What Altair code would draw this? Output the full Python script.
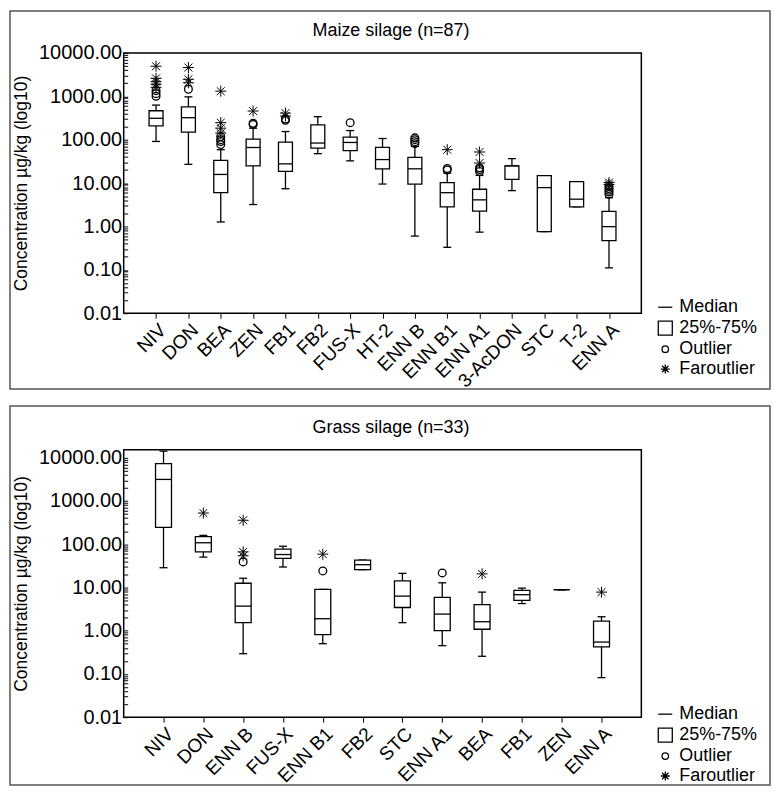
import altair as alt
import pandas as pd

FONT = "Liberation Sans"
FS_TITLE = 18
FS_YLAB = 20
FS_XLAB = 19
FS_YTITLE = 17.5
FS_LEG = 18

# ---------------- Maize silage ----------------
maize_title = "Maize silage (n=87)"
maize_cats = ["NIV", "DON", "BEA", "ZEN", "FB1", "FB2", "FUS-X", "HT-2", "ENN B",
              "ENN B1", "ENN A1", "3-AcDON", "STC", "T-2", "ENN A"]
maize_lo = [91, 27, 1.27, 3.2, 7.4, 47.6, 32.5, 9.5, 0.6, 0.33, 0.74, 6.7, 0.76, 2.83, 0.111]
maize_q1 = [208, 149, 6.0, 25, 18.5, 64, 55.8, 21.3, 9.5, 2.83, 2.26, 12.1, 0.76, 2.83, 0.47]
maize_med = [311, 321, 15.8, 66, 27.7, 83.6, 86.3, 34.8, 21.3, 6.0, 4.1, 25, 7.85, 4.25, 0.99]
maize_q3 = [464, 573, 33.5, 103, 88, 219, 114.5, 66.4, 39.2, 10.2, 7.2, 25, 14.8, 10.8, 2.22]
maize_hi = [627, 970, 58.8, 184, 154, 339, 162, 106.4, 70, 17, 15, 36.6, 14.8, 10.8, 4.6]
maize_out = {
    "NIV": [1350, 1150, 1000], "DON": [1450], "BEA": [118, 100, 91, 77],
    "ZEN": [239, 225], "FB1": [300, 280], "FUS-X": [247],
    "ENN B": [110, 100, 90, 81], "ENN B1": [21.6, 20], "ENN A1": [22.5, 20.5, 18.5],
    "ENN A": [8.5, 7.5, 6.8, 6.2, 5.5],
}
maize_far = {
    "NIV": [4940, 2590, 2170, 1890, 1610], "DON": [4600, 2460, 2050],
    "BEA": [1310, 247, 184, 142], "ZEN": [457], "FB1": [410, 350],
    "ENN B1": [58.8], "ENN A1": [52, 29], "ENN A": [10.3, 9.3],
}

# ---------------- Grass silage ----------------
grass_title = "Grass silage (n=33)"
grass_cats = ["NIV", "DON", "ENN B", "FUS-X", "ENN B1", "FB2", "STC", "ENN A1",
              "BEA", "FB1", "ZEN", "ENN A"]
grass_lo = [28.6, 50.3, 0.294, 29.7, 0.50, 25.8, 1.53, 0.45, 0.256, 4.24, 8.86, 0.082]
grass_q1 = [244, 66.5, 1.53, 46.8, 0.81, 25.8, 3.44, 1.0, 1.08, 5.05, 8.86, 0.42]
grass_med = [3150, 108, 3.7, 57.7, 1.89, 33.6, 6.3, 2.42, 1.61, 6.8, 8.86, 0.546]
grass_q3 = [7300, 149, 12.5, 76.6, 9.0, 43, 14.2, 5.9, 4.0, 8.55, 8.86, 1.67]
grass_hi = [14200, 160, 16.3, 89.8, 9.0, 43, 21.2, 12.8, 7.8, 9.64, 8.86, 2.1]
grass_out = {"ENN B": [39], "ENN B1": [24.1], "ENN A1": [21.7]}
grass_far = {"DON": [526], "ENN B": [358, 66.5, 54], "ENN B1": [58.9],
             "BEA": [20.6], "ENN A": [7.8]}

# ---------------- axis / legend text ----------------
y_title = "Concentration µg/kg (log10)"
y_major = [0.01, 0.1, 1, 10, 100, 1000, 10000]
y_minor = [round(m * d, 4) for d in [0.01, 0.1, 1, 10, 100, 1000] for m in range(2, 10)]
legend_items = ["Median", "25%-75%", "Outlier", "Faroutlier"]

AST = "M-1,0L1,0M0,-1L0,1M-0.72,-0.72L0.72,0.72M-0.72,0.72L0.72,-0.72"
LEG_SHAPES = [
    "M-0.97,0L0.97,0",
    "M-0.97,-0.97L0.97,-0.97L0.97,0.97L-0.97,0.97Z",
    "M0.45,0A0.45,0.45 0 1,1 -0.45,0A0.45,0.45 0 1,1 0.45,0Z",
    "M-0.62,0L0.62,0M0,-0.62L0,0.62M-0.45,-0.45L0.45,0.45M-0.45,0.45L0.45,-0.45",
]

LABEL_EXPR = ("abs(log(datum.value)/LN10 - round(log(datum.value)/LN10)) < 0.001"
              " ? format(datum.value, '.2f') : ''")


def panel(title, cats, lo, q1, med, q3, hi, out, far, ymax, h, boxw,
          frame_top, frame_bot, title_y, leg_y):
    stats = pd.DataFrame(dict(cat=cats, lo=lo, q1=q1, med=med, q3=q3, hi=hi))
    outdf = pd.DataFrame([(c, v) for c, vs in out.items() for v in vs], columns=["cat", "v"])
    fardf = pd.DataFrame([(c, v) for c, vs in far.items() for v in vs], columns=["cat", "v"])
    legdf = pd.DataFrame({"item": legend_items, "cat": [cats[0]] * 4, "v": [None] * 4})

    ticks = [t for t in sorted(y_major + y_minor) if t <= ymax]
    xaxis = alt.Axis(title=None, labelAngle=-45, tickSize=5, domain=False,
                     labelFont=FONT, labelFontSize=FS_XLAB, labelColor="black",
                     tickColor="black", labelPadding=2)
    yaxis = alt.Axis(values=ticks, labelExpr=LABEL_EXPR, title=y_title,
                     tickSize=4, offset=-4, domain=False, grid=False, labelPadding=2,
                     labelFont=FONT, labelFontSize=FS_YLAB, labelColor="black",
                     titleFont=FONT, titleFontSize=FS_YTITLE, titleFontWeight="normal",
                     titleColor="black", titlePadding=8, labelOverlap=False,
                     tickColor="black")
    xenc = alt.X("cat:N", scale=alt.Scale(type="point", domain=cats, padding=1), axis=xaxis)
    yscale = alt.Scale(type="log", domain=[0.01, ymax], nice=False)

    def Y(f):
        return alt.Y(f + ":Q", scale=yscale, axis=yaxis)

    base = alt.Chart(stats)
    whisk = base.mark_rule(color="black", strokeWidth=1.3).encode(
        x=xenc, y=Y("lo"), y2=alt.Y2("hi"))
    caps = base.transform_fold(["lo", "hi"], as_=["k", "capv"]).mark_tick(
        size=8, thickness=1.3, color="black", opacity=1).encode(x=xenc, y=Y("capv"))
    box = base.mark_bar(size=boxw, fill="white", stroke="black", strokeWidth=1.3,
                        opacity=1).encode(x=xenc, y=Y("q1"), y2=alt.Y2("q3"))
    medm = base.mark_tick(size=boxw, thickness=1.3, color="black", opacity=1).encode(
        x=xenc, y=Y("med"))
    outm = alt.Chart(outdf).mark_point(shape="circle", size=60, filled=False, color="black",
                                       strokeWidth=1.3, opacity=1).encode(x=xenc, y=Y("v"))
    farm = alt.Chart(fardf).mark_point(shape=AST, size=121, filled=False, color="black",
                                       strokeWidth=1.0, opacity=1).encode(x=xenc, y=Y("v"))
    leg = alt.Chart(legdf).mark_point(filled=False, color="black", strokeWidth=1.3,
                                      opacity=1, size=210).encode(
        x=xenc, y=Y("v"),
        shape=alt.Shape("item:N", scale=alt.Scale(domain=legend_items, range=LEG_SHAPES),
                        legend=alt.Legend(title=None, orient="none", legendX=534,
                                          legendY=leg_y, labelFont=FONT, labelFontSize=FS_LEG,
                                          labelColor="black", rowPadding=2, labelOffset=5,
                                          padding=0, symbolSize=210, symbolStrokeWidth=1.3,
                                          symbolStrokeColor="black",
                                          symbolFillColor="transparent")))
    ttl = alt.Chart(pd.DataFrame({"t": [title]})).mark_text(
        font=FONT, fontSize=FS_TITLE, color="black", baseline="middle", align="center").encode(
        x=alt.value(268), y=alt.value(title_y), text="t:N")
    frame = alt.Chart(pd.DataFrame({"t": [0]})).mark_rect(
        fillOpacity=0, stroke="#555555", strokeWidth=1.5).encode(
        x=alt.value(-114), x2=alt.value(648), y=alt.value(frame_top), y2=alt.value(h + frame_bot))
    return alt.layer(frame, ttl, whisk, caps, box, medm, outm, farm, leg).properties(
        width=519, height=h)


top = panel(maize_title, maize_cats, maize_lo, maize_q1, maize_med, maize_q3, maize_hi,
            maize_out, maize_far, 10000, 261, 14, -42, 76, -22, 261 - 15)
bottom = panel(grass_title, grass_cats, grass_lo, grass_q1, grass_med, grass_q3, grass_hi,
               grass_out, grass_far, 15200, 268, 16, -44, 68, -22, 268 - 12)

chart = alt.vconcat(top, bottom, spacing=12).resolve_scale(
    x="independent", y="independent", shape="independent").resolve_legend(
    shape="independent").properties(padding=0).configure_view(
    stroke="black", strokeWidth=1.5)

chart.save("out.html", embed_options={"renderer": "svg", "actions": False})
